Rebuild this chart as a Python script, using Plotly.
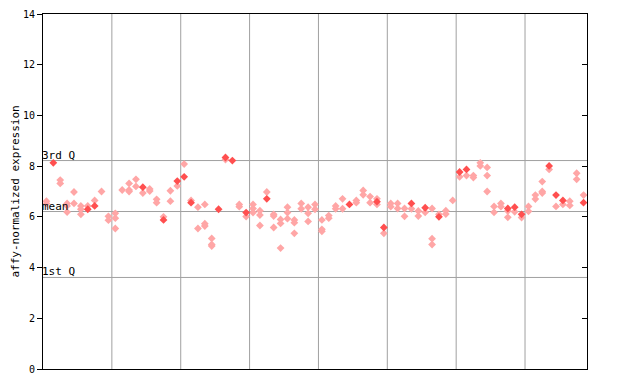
import plotly.graph_objects as go

# sample index and values for solid (filled) diamonds
solid_idx = [1, 6, 7, 14, 17, 19, 20, 21, 25, 26, 27, 29, 32, 44, 48, 49, 53, 55, 57,
             60, 61, 67, 68, 69, 73, 74, 75, 78]
solid_val = [8.13, 6.30, 6.43, 7.17, 5.88, 7.41, 7.58, 6.56, 6.30, 8.34, 8.22, 6.17, 6.71,
             6.49, 6.60, 5.58, 6.53, 6.36, 6.00, 7.77, 7.87, 6.33, 6.38, 6.10, 8.01, 6.86,
             6.65, 6.56]

# sample index and values for checkered (light) diamonds
open_idx = [0, 0, 2, 2, 3, 3, 3, 4, 4, 5, 5, 5, 6, 7, 8, 9, 9, 10, 10, 10, 11,
            12, 12, 12, 13, 13, 14, 15, 15, 16, 16, 17, 18, 18, 19, 20, 21,
            22, 22, 23, 23, 23, 24, 24, 24, 26, 28, 28, 29, 30, 30, 30,
            31, 31, 31, 32, 33, 33, 33, 34, 34, 34, 35, 35, 35, 36, 36, 36,
            37, 37, 38, 38, 38, 39, 39, 40, 40, 40, 41, 41, 42, 42, 43, 43,
            45, 45, 46, 46, 47, 47, 48, 48, 49, 50, 50, 51, 51, 52, 52, 53,
            54, 54, 55, 56, 56, 56, 57, 58, 58, 59, 60, 61, 62, 62, 63, 63,
            64, 64, 64, 65, 65, 66, 66, 67, 67, 68, 69, 70, 70, 71, 71,
            72, 72, 72, 73, 74, 75, 76, 76, 77, 77, 78]
open_val = [6.62, 6.53, 7.45, 7.32, 6.53, 6.43, 6.19, 6.98, 6.53, 6.43, 6.30, 6.10, 6.43,
            6.65, 7.00, 6.02, 5.87, 6.14, 5.95, 5.54, 7.06,
            7.32, 7.06, 7.00, 7.48, 7.20, 6.94, 7.10, 7.02, 6.69, 6.56, 6.00, 7.03, 6.62,
            7.22, 8.08, 6.65,
            6.38, 5.54, 6.49, 5.73, 5.64, 5.15, 4.91, 4.85, 8.26, 6.49, 6.40, 6.01,
            6.49, 6.33, 6.17,
            6.24, 6.07, 5.66, 6.98, 6.10, 6.03, 5.58, 5.90, 5.74, 4.77, 6.38, 6.17, 5.93,
            5.88, 5.77, 5.35,
            6.53, 6.32, 6.38, 6.14, 5.82, 6.49, 6.30, 5.88, 5.51, 5.43, 6.05, 5.95,
            6.43, 6.32, 6.71, 6.32,
            6.65, 6.56, 7.04, 6.87, 6.80, 6.56, 6.71, 6.49, 5.35, 6.53, 6.40, 6.53, 6.33,
            6.33, 6.02, 6.32,
            6.23, 6.03, 6.18, 6.33, 5.14, 4.91, 6.10, 6.24, 6.11, 6.65, 7.58, 7.63, 7.63,
            7.55, 8.13, 8.01,
            7.95, 7.63, 7.00, 6.41, 6.18, 6.53, 6.40, 6.23, 5.98, 6.20, 5.97, 6.41, 6.22,
            6.86, 6.70,
            7.39, 7.00, 6.94, 7.87, 6.41, 6.49, 6.62, 6.45, 7.72, 7.48, 6.86]

n_samples = 79
q3_val, mean_val, q1_val = 8.22, 6.21, 3.61
y_ticks = [0, 2, 4, 6, 8, 10, 12, 14]
group_bounds = [9.5, 19.5, 29.5, 39.5, 49.5, 59.5, 69.5]

FONT = "DejaVu Sans Mono"
RED = "#ff4f4f"
LIGHT = "#ffa6a6"

fig = go.Figure()
fig.add_trace(go.Scatter(x=open_idx, y=open_val, mode="markers",
                         marker=dict(symbol="diamond", size=6, color=LIGHT, line=dict(width=0)),
                         showlegend=False, hoverinfo="skip"))
fig.add_trace(go.Scatter(x=solid_idx, y=solid_val, mode="markers",
                         marker=dict(symbol="diamond", size=6, color=RED, line=dict(width=0)),
                         showlegend=False, hoverinfo="skip"))
fig.add_trace(go.Scatter(x=[None], y=[None], yaxis="y2", showlegend=False))

for gx in group_bounds:
    fig.add_vline(x=gx, line=dict(color="#a0a0a0", width=1), layer="below")
for yv, lab in [(q3_val, "3rd Q"), (mean_val, "mean"), (q1_val, "1st Q")]:
    fig.add_hline(y=yv, line=dict(color="#a0a0a0", width=1), layer="below")
    fig.add_annotation(x=0, xref="paper", y=yv, yref="y", text=lab, showarrow=False,
                       xanchor="left", yanchor="bottom", xshift=-3, yshift=-3,
                       font=dict(family=FONT, size=11, color="black"))

fig.add_annotation(x=0, xref="paper", y=0.5, yref="paper", text="affy-normalized expression",
                   textangle=-90, showarrow=False, xanchor="center", yanchor="middle",
                   xshift=-28, font=dict(family=FONT, size=11, color="black"))

fig.update_layout(
    width=632, height=376,
    margin=dict(l=35, r=53, t=6, b=15, autoexpand=False),
    paper_bgcolor="white", plot_bgcolor="white",
    xaxis=dict(range=[-0.5, n_samples - 0.5], showgrid=False, zeroline=False,
               showticklabels=False, ticks="", showline=True, linecolor="black",
               linewidth=1, mirror=True, automargin=False),
    yaxis=dict(range=[0, 14], tickvals=y_ticks, ticktext=[str(v) for v in y_ticks],
               showgrid=False, zeroline=False, ticks="outside", ticklen=5,
               tickcolor="black", showline=True, linecolor="black", linewidth=1,
               mirror=True, automargin=False,
               tickfont=dict(family=FONT, size=10, color="black")),
    yaxis2=dict(range=[0, 14], tickvals=y_ticks, overlaying="y", side="right",
                ticks="inside", ticklen=5, tickcolor="black", showticklabels=False,
                showgrid=False, zeroline=False, showline=False, automargin=False),
)

fig.write_html("out.html")
